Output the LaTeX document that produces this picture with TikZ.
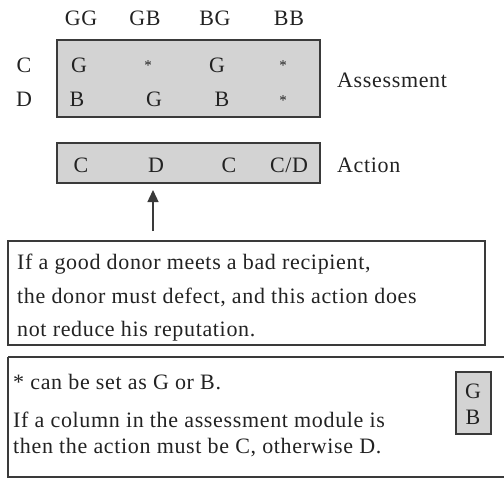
\documentclass[tikz,border=0pt]{standalone}
\usepackage{fontspec}
\setmainfont{Liberation Serif}[LetterSpace=3]
\usetikzlibrary{arrows.meta}
\definecolor{boxfill}{HTML}{D3D3D3}
\definecolor{edge}{HTML}{3A3A3A}
\definecolor{ink}{HTML}{222222}
\tikzset{
  graybox/.style={draw=edge,fill=boxfill,line width=1.4pt},
  whitebox/.style={draw=edge,line width=1.4pt},
  lbl/.style={inner sep=0pt,anchor=base,text=ink,font=\fontsize{22}{26}\selectfont},
  lline/.style={inner sep=0pt,anchor=base west,text=ink,font=\fontsize{22}{26}\selectfont},
  star/.style={inner sep=0pt,anchor=base,text=ink,font=\fontsize{15}{17}\selectfont},
}
\begin{document}
\begin{tikzpicture}[x=1pt,y=-1pt]
\useasboundingbox (0,0) rectangle (504,480);
% header
\node[lbl] (hGG) at (81,25) {GG};
\node[lbl] (hGB) at (145,25) {GB};
\node[lbl] (hBG) at (215,25) {BG};
\node[lbl] (hBB) at (289,25) {BB};
\node[lbl] (rC) at (24,72) {C};
\node[lbl] (rD) at (24,106) {D};
% assessment box
\draw[graybox] (57,40) rectangle (320,117);
\node[lbl] (a11) at (79,72) {G};
\node[star] (a12) at (148,70) {*};
\node[lbl] (a13) at (217,72) {G};
\node[star] (a14) at (283,70) {*};
\node[lbl] (a21) at (77,106) {B};
\node[lbl] (a22) at (154,106) {G};
\node[lbl] (a23) at (222,106) {B};
\node[star] (a24) at (283,105) {*};
\node[lline] (assess) at (337,87) {Assessment};
% action box
\draw[graybox] (57,143) rectangle (320,183);
\node[lbl] (c1) at (81,172) {C};
\node[lbl] (c2) at (156,172) {D};
\node[lbl] (c3) at (229,172) {C};
\node[lbl] (c4) at (289,172) {C/D};
\node[lline] (action) at (337,172) {Action};
% arrow
\coordinate (arrS) at (153,231);
\coordinate (arrE) at (153,190);
\draw[draw=edge,line width=1.4pt,-{Triangle[length=12pt,width=11pt]}] (arrS) -- (arrE);
% note box 1
\draw[whitebox] (8,241) rectangle (485,345);
\node[lline] (n1) at (17,269) {If a good donor meets a bad recipient,};
\node[lline] (n2) at (17,303) {the donor must defect, and this action does};
\node[lline] (n3) at (17,336) {not reduce his reputation.};
% note box 2
\draw[whitebox] (8,357) -- (512,357) (8,357) -- (8,477) -- (512,477);
\node[lline] (m1) at (13,389) {* can be set as G or B.};
\node[lline] (m2) at (13,427) {If a column in the assessment module is};
\node[lline] (m3) at (13,453) {then the action must be C, otherwise D.};
\draw[graybox] (456,372) rectangle (491,434);
\node[lbl] (gbG) at (473,398) {G};
\node[lbl] (gbB) at (473,424) {B};
\end{tikzpicture}
\end{document}
